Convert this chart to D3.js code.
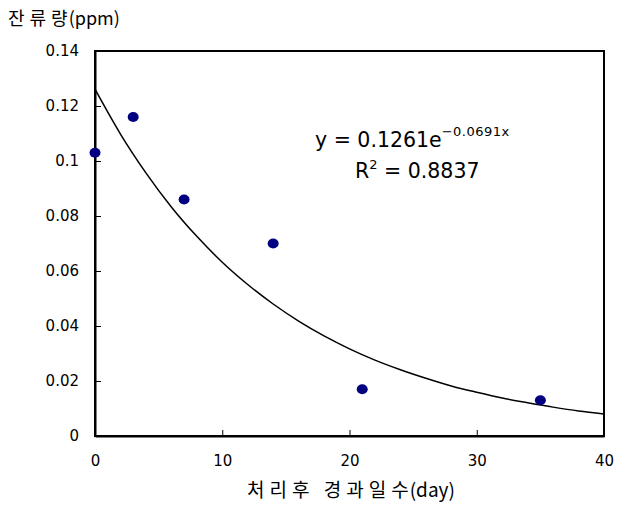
<!DOCTYPE html>
<html>
<head>
<meta charset="utf-8">
<script src="https://cdn.jsdelivr.net/npm/d3@7"></script>
<style>
  body { margin: 0; background: #fff; }
  svg text { font-family: "Noto Sans CJK KR", "DejaVu Sans", sans-serif; fill: #000; }
</style>
</head>
<body>
<svg id="chart" width="618" height="506"></svg>
<script>
// residue measurements (days after treatment, ppm)
const days = [0, 3, 7, 14, 21, 35];
const residue = [0.103, 0.116, 0.086, 0.070, 0.017, 0.013];

// exponential trendline
const trendDays = [0, 2, 4, 6, 8, 10, 12, 14, 16, 18, 20, 22, 24, 26, 28, 30, 32, 34, 36, 38, 40];
const trendVals = [0.1261, 0.1098, 0.0957, 0.0833, 0.0726, 0.0632, 0.0551, 0.0480, 0.0418, 0.0364,
                   0.0317, 0.0276, 0.0241, 0.0210, 0.0182, 0.0159, 0.0138, 0.0121, 0.0105, 0.0091, 0.0080];

const xTicks = [0, 10, 20, 30, 40];
const yTicks = [0, 0.02, 0.04, 0.06, 0.08, 0.1, 0.12, 0.14];

const svg = d3.select("#chart");
const margin = { top: 51, right: 14, bottom: 70, left: 95 };
const width = 618, height = 506;
const innerW = width - margin.left - margin.right;
const innerH = height - margin.top - margin.bottom;

const g = svg.append("g").attr("transform", `translate(${margin.left},${margin.top})`);

const x = d3.scaleLinear().domain([0, 40]).range([0, innerW]);
const y = d3.scaleLinear().domain([0, 0.14]).range([innerH, 0]);

// frame
g.append("rect")
  .attr("width", innerW).attr("height", innerH)
  .attr("fill", "none").attr("stroke", "#000").attr("stroke-width", 2);

const numFont = "'DejaVu Sans', sans-serif";

g.append("g")
  .attr("transform", `translate(0,${innerH})`)
  .call(d3.axisBottom(x).tickValues(xTicks).tickFormat(d3.format("d")).tickSizeInner(-6).tickSizeOuter(0).tickPadding(19))
  .call(a => {
    a.select(".domain").attr("stroke", "#000").attr("stroke-width", 2);
    a.selectAll(".tick line").attr("stroke", "#000");
    a.selectAll("text").attr("font-size", 15).attr("fill", "#111").style("font-family", numFont);
  });

g.append("g")
  .call(d3.axisLeft(y).tickValues(yTicks).tickFormat(d => d === 0 ? "0" : String(+d.toFixed(2))).tickSizeInner(-6).tickSizeOuter(0).tickPadding(16))
  .call(a => {
    a.select(".domain").attr("stroke", "#000").attr("stroke-width", 2);
    a.selectAll(".tick line").attr("stroke", "#000");
    a.selectAll("text").attr("font-size", 15).attr("fill", "#111").style("font-family", numFont);
  });

// trendline
const line = d3.line()
  .x((d, i) => x(trendDays[i]))
  .y(d => y(d))
  .curve(d3.curveMonotoneX);

g.append("path")
  .datum(trendVals)
  .attr("d", line)
  .attr("fill", "none")
  .attr("stroke", "#000")
  .attr("stroke-width", 1.5);

// points
g.selectAll(".dot")
  .data(days)
  .join("ellipse")
  .attr("class", "dot")
  .attr("cx", d => x(d))
  .attr("cy", (d, i) => y(residue[i]))
  .attr("rx", 5.5)
  .attr("ry", 5)
  .attr("fill", "#000080");

// equation
const eq = svg.append("text")
  .attr("x", 315).attr("y", 147)
  .attr("font-size", 20.5)
  .style("font-family", numFont);
eq.append("tspan").text("y = 0.1261e");
eq.append("tspan").attr("font-size", 13).attr("dy", -11).attr("letter-spacing", 0.5).text("\u22120.0691x");

const r2 = svg.append("text")
  .attr("x", 355).attr("y", 178)
  .attr("font-size", 20.5)
  .style("font-family", numFont);
r2.append("tspan").text("R");
r2.append("tspan").attr("font-size", 13).attr("dy", -9).text("2");
r2.append("tspan").attr("dy", 9).text(" = 0.8837");

// axis titles: spaced hangul, compact latin
const yTitle = svg.append("text")
  .attr("x", 8).attr("y", 25)
  .attr("font-size", 18);
yTitle.append("tspan").attr("letter-spacing", 5).text("잔류량");
yTitle.append("tspan").attr("dx", -4).text("(ppm)");

const xTitle = svg.append("text")
  .attr("x", 351).attr("y", 497)
  .attr("text-anchor", "middle")
  .attr("font-size", 19);
xTitle.append("tspan").attr("letter-spacing", 5).text("처리후 경과일수");
xTitle.append("tspan").attr("dx", -4).text("(day)");
</script>
</body>
</html>
